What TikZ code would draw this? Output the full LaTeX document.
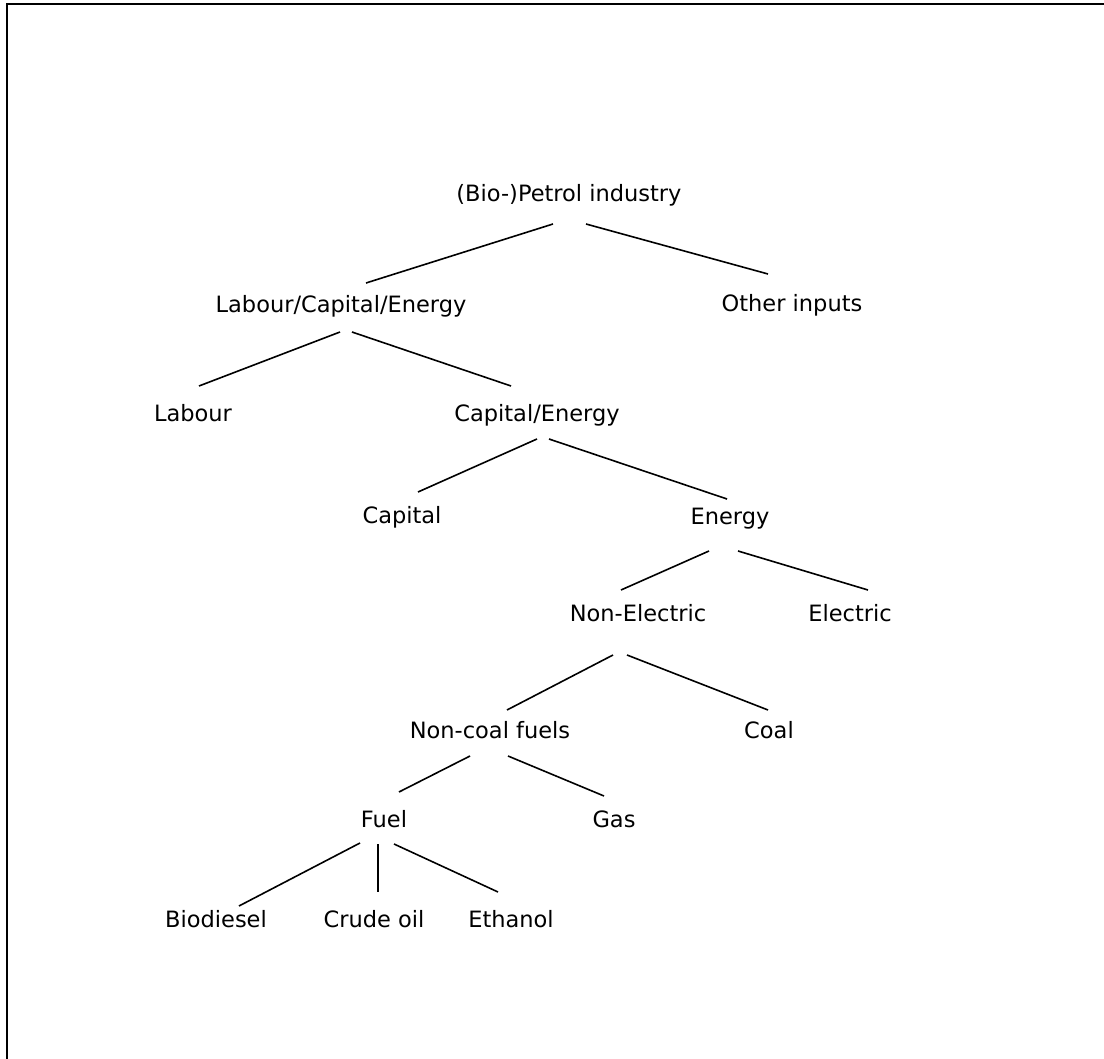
\documentclass[tikz,border=0pt]{standalone}
\usepackage{fontspec}
\setmainfont{DejaVu Sans}
\usetikzlibrary{calc}
\begin{document}
\begin{tikzpicture}[x=1pt,y=-1pt,
  lbl/.style={inner sep=0pt, text height=16.4pt, text depth=0pt, anchor=center,
    font=\fontsize{22.5}{27}\selectfont},
  conn/.style={line width=1.6pt},
  frame/.style={line width=1.8pt}]
\useasboundingbox (0,0) rectangle (1104,1059);
\coordinate (fa) at (7,1059);
\coordinate (fb) at (7,4);
\coordinate (fc) at (1104,4);
\draw[frame] (fa) -- (fb) -- (fc);

\node[lbl] (root) at (569,193) {(Bio-)Petrol industry};
\node[lbl] (lce) at (341,304) {Labour/Capital/Energy};
\node[lbl] (other) at (792,303) {Other inputs};
\node[lbl] (labour) at (193,413) {Labour};
\node[lbl] (ce) at (537,413) {Capital/Energy};
\node[lbl] (capital) at (402,515) {Capital};
\node[lbl] (energy) at (730,516) {Energy};
\node[lbl] (nonelec) at (638,613) {Non-Electric};
\node[lbl] (electric) at (850,613) {Electric};
\node[lbl] (ncf) at (490,730) {Non-coal fuels};
\node[lbl] (coal) at (769,730) {Coal};
\node[lbl] (fuel) at (384,819) {Fuel};
\node[lbl] (gas) at (614,819) {Gas};
\node[lbl] (bio) at (216,919) {Biodiesel};
\node[lbl] (crude) at (374,919) {Crude oil};
\node[lbl] (eth) at (511,919) {Ethanol};

\draw[conn] ($(root)+(-16,31)$) -- ($(lce)+(25,-21)$);
\draw[conn] ($(root)+(17,31)$) -- ($(other)+(-24,-29)$);
\draw[conn] ($(lce)+(-1,28)$) -- ($(labour)+(6,-27)$);
\draw[conn] ($(lce)+(11,28)$) -- ($(ce)+(-26,-27)$);
\draw[conn] ($(ce)+(0,26)$) -- ($(capital)+(16,-23)$);
\draw[conn] ($(ce)+(12,26)$) -- ($(energy)+(-3,-17)$);
\draw[conn] ($(energy)+(-21,35)$) -- ($(nonelec)+(-17,-23)$);
\draw[conn] ($(energy)+(8,35)$) -- ($(electric)+(18,-23)$);
\draw[conn] ($(nonelec)+(-25,42)$) -- ($(ncf)+(17,-20)$);
\draw[conn] ($(nonelec)+(-11,42)$) -- ($(coal)+(-1,-20)$);
\draw[conn] ($(ncf)+(-20,26)$) -- ($(fuel)+(15,-27)$);
\draw[conn] ($(ncf)+(18,26)$) -- ($(gas)+(-10,-23)$);
\draw[conn] ($(fuel)+(-24,24)$) -- ($(bio)+(23,-13)$);
\draw[conn] ($(fuel)+(-6,25)$) -- ($(crude)+(4,-27)$);
\draw[conn] ($(fuel)+(10,25)$) -- ($(eth)+(-13,-27)$);
\end{tikzpicture}
\end{document}
